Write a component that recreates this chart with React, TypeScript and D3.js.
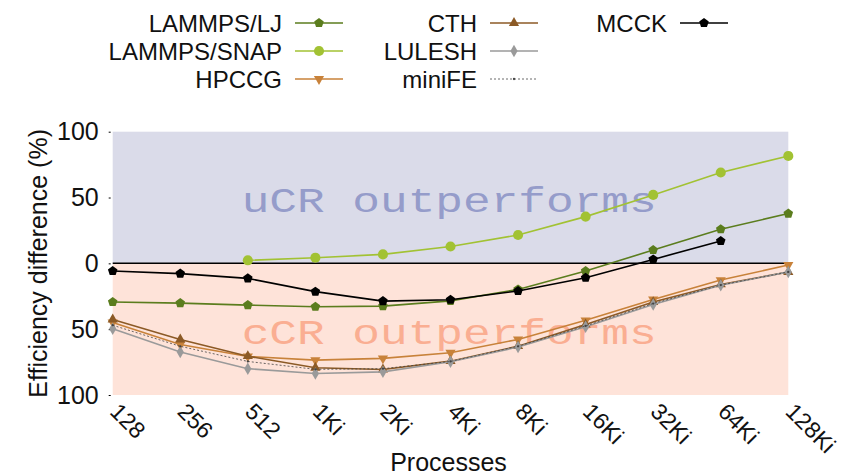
import React, { useRef, useEffect } from 'react';
import * as d3 from 'd3';

const procs = ["128", "256", "512", "1Ki", "2Ki", "4Ki", "8Ki", "16Ki", "32Ki", "64Ki", "128Ki"];
const yTicks = [100, 50, 0, -50, -100];

const ljVals = [-29.4, -30.2, -31.7, -33, -32.5, -28.5, -19.8, -5.8, 10.1, 25.9, 37.8];
const snapVals = [null, null, 2.3, 4.3, 6.8, 12.8, 21.5, 35.5, 52, 69, 81.6];
const hpccgVals = [-44.9, -61.6, -70.7, -73.5, -72.2, -67.9, -57.8, -43.3, -27.4, -12.7, -1.3];
const cthVals = [-42.6, -57.8, -70.5, -79.3, -80.6, -74.3, -62.9, -46.4, -29.4, -16, -6.6];
const luleshVals = [-49.7, -67.4, -80, -83.7, -82.4, -74.8, -63.6, -48.1, -31.2, -16.7, -6.5];
const minifeVals = [-47, -63, -74.5, -80.5, -80, -74.5, -63, -47.5, -30.5, -16.5, -6.5];
const mcckVals = [-5.8, -7.8, -11.4, -21.5, -28.7, -27.6, -21, -10.9, 3, 17, null];

const pentagon = {
    draw(ctx: any, size: number) {
        const r = Math.sqrt(size / 2.38);
        for (let i = 0; i < 5; i++) {
            const a = -Math.PI / 2 + (i * 2 * Math.PI) / 5;
            const px = r * Math.cos(a), py = r * Math.sin(a);
            if (i === 0) ctx.moveTo(px, py); else ctx.lineTo(px, py);
        }
        ctx.closePath();
    }
};

const series = [
    { name: "LAMMPS/LJ", values: ljVals, color: "#5b7d1e", symbol: pentagon, size: 60, rot: 0, col: 0, row: 0 },
    { name: "LAMMPS/SNAP", values: snapVals, color: "#a2c233", symbol: d3.symbolCircle, size: 80, rot: 0, col: 0, row: 1 },
    { name: "HPCCG", values: hpccgVals, color: "#c8823a", symbol: d3.symbolTriangle, size: 45, rot: 180, col: 0, row: 2 },
    { name: "CTH", values: cthVals, color: "#8c5a26", symbol: d3.symbolTriangle, size: 45, rot: 0, col: 1, row: 0 },
    { name: "LULESH", values: luleshVals, color: "#9a9a9a", symbol: d3.symbolDiamond, size: 45, rot: 0, col: 1, row: 1 },
    { name: "miniFE", values: minifeVals, color: "#444444", symbol: d3.symbolCircle, size: 4, rot: 0, col: 1, row: 2, dash: "2,2", width: 0.8 },
    { name: "MCCK", values: mcckVals, color: "#000000", symbol: pentagon, size: 60, rot: 0, col: 2, row: 0 },
];

const App = () => {
    const chartRef = useRef(null);

    useEffect(() => {
        document.body.style.margin = "0";
        d3.select(chartRef.current).selectAll("*").remove();

        const svg = d3.select(chartRef.current)
            .attr("width", 852)
            .attr("height", 475);

        const x = d3.scalePoint().domain(procs).range([112.7, 788.3]);
        const y = d3.scaleLinear().domain([-100, 100]).range([395, 131.7]);
        const font = "Liberation Sans, Arial, sans-serif";

        // backgrounds
        svg.append("rect")
            .attr("x", x("128")).attr("y", y(100))
            .attr("width", x("128Ki") - x("128")).attr("height", y(0) - y(100))
            .attr("fill", "#dadbe9");
        svg.append("rect")
            .attr("x", x("128")).attr("y", y(0))
            .attr("width", x("128Ki") - x("128")).attr("height", y(-100) - y(0))
            .attr("fill", "#fee3d9");

        const mid = (x("128") + x("128Ki")) / 2 - 2;
        svg.append("text")
            .attr("x", 241.7).attr("y", 211.7)
            .attr("textLength", 415).attr("lengthAdjust", "spacingAndGlyphs")
            .attr("font-family", "Liberation Mono, Courier New, monospace")
            .attr("font-size", 35)
            .attr("fill", "#959cca")
            .text("uCR outperforms");
        svg.append("text")
            .attr("x", 241.7).attr("y", 344)
            .attr("textLength", 415).attr("lengthAdjust", "spacingAndGlyphs")
            .attr("font-family", "Liberation Mono, Courier New, monospace")
            .attr("font-size", 35)
            .attr("fill", "#faae92")
            .text("cCR outperforms");

        // zero line
        svg.append("line")
            .attr("x1", x("128")).attr("x2", x("128Ki"))
            .attr("y1", y(0)).attr("y2", y(0))
            .attr("stroke", "#000").attr("stroke-width", 1.5);

        // y axis
        const yAxis = svg.append("g")
            .attr("transform", `translate(${x("128") - 2},0)`)
            .call(d3.axisLeft(y).tickValues(yTicks).tickSize(2).tickPadding(10).tickFormat(d => `${Math.abs(+d)}`));
        yAxis.select(".domain").remove();
        yAxis.selectAll("text").attr("font-family", font).attr("font-size", 25).attr("fill", "#111");

        // x tick labels
        svg.append("g").selectAll("text")
            .data(procs)
            .join("text")
            .attr("transform", d => `translate(${x(d) - 4},${413}) rotate(45)`)
            .attr("font-family", font).attr("font-size", 23)
            .attr("fill", "#111")
            .text(d => d);

        svg.append("text")
            .attr("x", mid).attr("y", 471)
            .attr("text-anchor", "middle")
            .attr("font-family", font).attr("font-size", 25).attr("fill", "#111")
            .text("Processes");

        svg.append("text")
            .attr("transform", `translate(47,${y(0)}) rotate(-90)`)
            .attr("text-anchor", "middle")
            .attr("font-family", font).attr("font-size", 25).attr("fill", "#111")
            .text("Efficiency difference (%)");

        // series
        const line = d3.line<any>()
            .defined(d => d.v !== null)
            .x(d => x(d.p))
            .y(d => y(d.v));

        series.forEach(s => {
            const pts = procs.map((p, i) => ({ p, v: s.values[i] }));
            svg.append("path")
                .datum(pts)
                .attr("fill", "none")
                .attr("stroke", s.color)
                .attr("stroke-width", s.width || 1.6)
                .attr("stroke-dasharray", s.dash || null)
                .attr("d", line);
            svg.append("g").selectAll("path")
                .data(pts.filter(d => d.v !== null))
                .join("path")
                .attr("transform", d => `translate(${x(d.p)},${y(d.v)}) rotate(${s.rot})`)
                .attr("d", d3.symbol().type(s.symbol as any).size(s.size)())
                .attr("fill", s.color);
        });

        // legend
        const colRight = [282, 477, 667];
        const rowBase = [32, 60, 88];
        series.forEach(s => {
            const tx = colRight[s.col];
            const ty = rowBase[s.row];
            svg.append("text")
                .attr("x", tx).attr("y", ty)
                .attr("text-anchor", "end")
                .attr("font-family", font).attr("font-size", 24).attr("fill", "#111")
                .text(s.name);
            const lx = tx + 13, ly = ty - 9;
            svg.append("line")
                .attr("x1", lx).attr("x2", lx + 48)
                .attr("y1", ly).attr("y2", ly)
                .attr("stroke", s.color)
                .attr("stroke-width", s.width || 1.6)
                .attr("stroke-dasharray", s.dash || null);
            svg.append("path")
                .attr("transform", `translate(${lx + 24},${ly}) rotate(${s.rot})`)
                .attr("d", d3.symbol().type(s.symbol as any).size(s.size)())
                .attr("fill", s.color);
        });
    }, []);

    return <svg ref={chartRef}></svg>;
};

export default App;
